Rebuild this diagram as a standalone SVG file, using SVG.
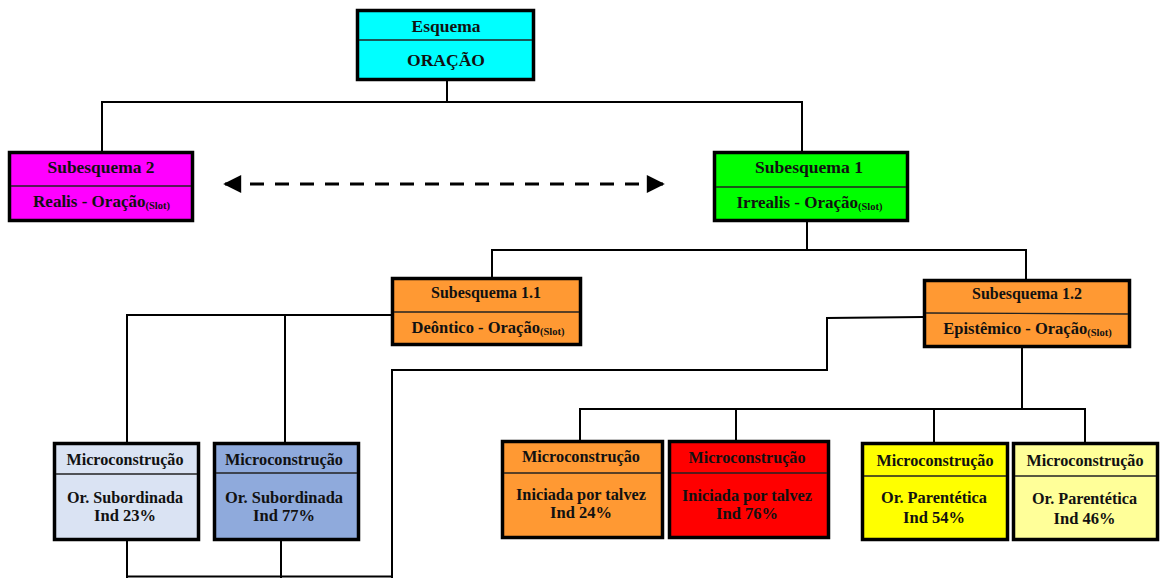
<svg xmlns="http://www.w3.org/2000/svg" width="1166" height="578" viewBox="0 0 1166 578">
<style>
.box{stroke:#000;stroke-width:3.5}
.div{stroke:#222;stroke-width:1.3}
.t{font-family:"Liberation Serif","Times New Roman",serif;font-weight:bold;fill:#111;text-anchor:middle}
.big{font-size:17.5px}
.mid{font-size:17px}
.sm{font-size:16.5px}
.slot{font-size:10.5px}
.con{stroke:#000;stroke-width:2;fill:none}
</style>
<defs>
<marker id="ah" viewBox="0 0 10 10" refX="9" refY="5" markerWidth="19" markerHeight="18" markerUnits="userSpaceOnUse" orient="auto-start-reverse">
<path d="M0,0 L10,5 L0,10 z" fill="#000"/>
</marker>
</defs>
<rect width="1166" height="578" fill="#fff"/>
<g id="connectors">
<path class="con" d="M447,81 V102 M102,102 H803 M102,101 V151 M802,101 V151"/>
<path class="con" d="M807,222 V250 M491,250 H1026 M492,249 V278 M1026,249 V280"/>
<path class="con" d="M391,315 H127 V443 M285,315 V443"/>
<path class="con" d="M923,317 L827,318 V370 H392 V578"/>
<path class="con" d="M127,540 V578 M281,540 V578 M127,576.5 H392"/>
<path class="con" d="M1022,348 V409 M580,409 H1086 M580,408 V440 M736,408 V440 M934,408 V442 M1085,408 V442"/>
<line x1="225" y1="184" x2="663" y2="184" stroke="#000" stroke-width="3" stroke-dasharray="14 11" marker-start="url(#ah)" marker-end="url(#ah)"/>
</g>
<g id="esquema">
<rect class="box" x="357.5" y="10.5" width="176" height="69" fill="#00FFFF"/>
<line class="div" x1="359" y1="40" x2="532" y2="40"/>
<text class="t big" x="446" y="32" textLength="69" lengthAdjust="spacingAndGlyphs">Esquema</text>
<text class="t big" x="446" y="66" textLength="78" lengthAdjust="spacingAndGlyphs">ORAÇÃO</text>
</g>
<g id="subesquema2">
<rect class="box" x="9.5" y="152.5" width="183" height="68" fill="#FF00FF"/>
<line class="div" x1="11" y1="186" x2="191" y2="186"/>
<text class="t mid" x="101" y="173" textLength="107" lengthAdjust="spacingAndGlyphs">Subesquema 2</text>
<text class="t mid" x="101.5" y="207">Realis - Oração<tspan class="slot" dy="2">(Slot)</tspan></text>
</g>
<g id="subesquema1">
<rect class="box" x="714.5" y="152.5" width="193" height="68" fill="#00FF00"/>
<line class="div" x1="716" y1="187" x2="906" y2="187"/>
<text class="t mid" x="809" y="173" textLength="108" lengthAdjust="spacingAndGlyphs">Subesquema 1</text>
<text class="t mid" x="809.5" y="208">Irrealis - Oração<tspan class="slot" dy="2">(Slot)</tspan></text>
</g>
<g id="subesquema11">
<rect class="box" x="392.5" y="278.5" width="188" height="66" fill="#FF9933"/>
<line class="div" x1="394" y1="312" x2="579" y2="312"/>
<text class="t sm" x="486" y="298" textLength="110" lengthAdjust="spacingAndGlyphs">Subesquema 1.1</text>
<text class="t sm" x="488" y="333">Deôntico - Oração<tspan class="slot" dy="2">(Slot)</tspan></text>
</g>
<g id="subesquema12">
<rect class="box" x="924.5" y="280.5" width="205" height="66" fill="#FF9933"/>
<line class="div" x1="926" y1="313" x2="1128" y2="314"/>
<text class="t sm" x="1027" y="299" textLength="110" lengthAdjust="spacingAndGlyphs">Subesquema 1.2</text>
<text class="t sm" x="1027.5" y="334">Epistêmico - Oração<tspan class="slot" dy="2">(Slot)</tspan></text>
</g>
<g id="micro1">
<rect class="box" x="54.5" y="443.5" width="144" height="96" fill="#DAE3F3"/>
<line class="div" x1="56" y1="474" x2="197" y2="474"/>
<text class="t sm" x="125" y="465" textLength="117" lengthAdjust="spacingAndGlyphs">Microconstrução</text>
<text class="t sm" x="125" y="503" textLength="116" lengthAdjust="spacingAndGlyphs">Or. Subordinada</text>
<text class="t sm" x="125" y="521">Ind 23%</text>
</g>
<g id="micro2">
<rect class="box" x="214.5" y="443.5" width="144" height="96" fill="#8FAADC"/>
<line class="div" x1="216" y1="473" x2="357" y2="473"/>
<text class="t sm" x="284" y="465" textLength="118" lengthAdjust="spacingAndGlyphs">Microconstrução</text>
<text class="t sm" x="284" y="503" textLength="118" lengthAdjust="spacingAndGlyphs">Or. Subordinada</text>
<text class="t sm" x="284" y="521">Ind 77%</text>
</g>
<g id="micro3">
<rect class="box" x="502.5" y="441.5" width="160" height="96" fill="#FF9933"/>
<line class="div" x1="504" y1="473" x2="661" y2="473"/>
<text class="t sm" x="581" y="462" textLength="118" lengthAdjust="spacingAndGlyphs">Microconstrução</text>
<text class="t sm" x="581" y="500" textLength="130" lengthAdjust="spacingAndGlyphs">Iniciada por talvez</text>
<text class="t sm" x="581" y="518">Ind 24%</text>
</g>
<g id="micro4">
<rect class="box" x="669.5" y="441.5" width="159" height="96" fill="#FF0000"/>
<line class="div" x1="671" y1="473" x2="827" y2="473"/>
<text class="t sm" x="747" y="463" textLength="117" lengthAdjust="spacingAndGlyphs">Microconstrução</text>
<text class="t sm" x="747" y="501" textLength="130" lengthAdjust="spacingAndGlyphs">Iniciada por talvez</text>
<text class="t sm" x="747" y="519">Ind 76%</text>
</g>
<g id="micro5">
<rect class="box" x="862.5" y="443.5" width="145" height="96" fill="#FFFF00"/>
<line class="div" x1="864" y1="476" x2="1006" y2="476"/>
<text class="t sm" x="935" y="466" textLength="117" lengthAdjust="spacingAndGlyphs">Microconstrução</text>
<text class="t sm" x="934" y="503" textLength="106" lengthAdjust="spacingAndGlyphs">Or. Parentética</text>
<text class="t sm" x="934" y="523">Ind 54%</text>
</g>
<g id="micro6">
<rect class="box" x="1013.5" y="443.5" width="144" height="96" fill="#FFFF99"/>
<line class="div" x1="1015" y1="476" x2="1156" y2="476"/>
<text class="t sm" x="1085" y="466" textLength="117" lengthAdjust="spacingAndGlyphs">Microconstrução</text>
<text class="t sm" x="1084.5" y="504" textLength="105" lengthAdjust="spacingAndGlyphs">Or. Parentética</text>
<text class="t sm" x="1084.5" y="524">Ind 46%</text>
</g>
</svg>
